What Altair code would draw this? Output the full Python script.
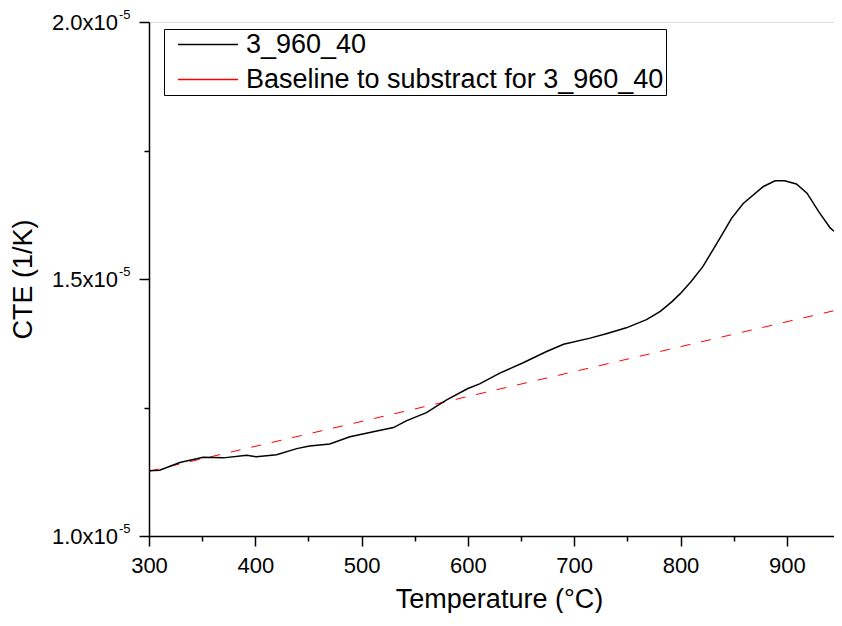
import altair as alt
import pandas as pd

# Measured curve: temperature (°C) and CTE in units of 1e-5 1/K
TEMP = [300, 310, 329, 351, 370, 392, 401, 420, 439, 451, 470, 489, 511, 530,
        542, 561, 580, 600, 611, 630, 652, 674, 690, 715, 731, 749, 768, 781,
        792, 800, 810, 821, 837, 848, 859, 878, 889, 898, 909, 919, 930, 941, 952]
CTE_E5 = [1.127, 1.128, 1.143, 1.153, 1.152, 1.157, 1.154, 1.158, 1.170, 1.175,
          1.179, 1.193, 1.203, 1.211, 1.224, 1.240, 1.265, 1.287, 1.296, 1.317,
          1.337, 1.359, 1.373, 1.385, 1.394, 1.405, 1.421, 1.437, 1.456, 1.472,
          1.495, 1.524, 1.579, 1.618, 1.647, 1.680, 1.691, 1.691, 1.685, 1.667,
          1.631, 1.599, 1.580]

# Baseline (straight line)
BASE_TEMP = [300, 952]
BASE_CTE_E5 = [1.126, 1.442]

UNIT = 1e-5
SERIES = ["3_960_40", "Baseline to substract for 3_960_40"]
COLORS = ["black", "red"]

X_DOMAIN = [300, 944.4]
X_TICKS = [300, 350, 400, 450, 500, 550, 600, 650, 700, 750, 800, 850, 900]
Y_TICKS_E5 = [1.0, 1.25, 1.5, 1.75, 2.0]
Y_LABEL_VALUES_E5 = [1.0, 1.5, 2.0]
Y_LABEL_TEXT = ["1.0x10", "1.5x10", "2.0x10"]
Y_LABEL_SUP = "-5"

FONT = "Liberation Sans"

df_meas = pd.DataFrame({"T": TEMP, "v": [c * UNIT for c in CTE_E5], "series": SERIES[0]})
df_base = pd.DataFrame({"T": BASE_TEMP, "v": [c * UNIT for c in BASE_CTE_E5], "series": SERIES[1]})
df_lab = pd.DataFrame({"v": [c * UNIT for c in Y_LABEL_VALUES_E5], "t": Y_LABEL_TEXT, "s": Y_LABEL_SUP})

x_axis = alt.Axis(
    values=X_TICKS,
    labelExpr="datum.value % 100 === 0 ? datum.label : ''",
    tickSize={"condition": {"test": "datum.value % 100 === 0", "value": 10}, "value": 5},
    labelPadding=9,
    title="Temperature (°C)",
    titleFontSize=27,
    titleFontWeight="normal",
    titleBaseline="alphabetic",
    titleX=350,
    titleY=71,
    grid=False,
)
y_axis = alt.Axis(
    values=[c * UNIT for c in Y_TICKS_E5],
    labels=False,
    tickSize={"condition": {"test": "abs(datum.value*2e5 - round(datum.value*2e5)) < 1e-6", "value": 10}, "value": 5},
    title="CTE (1/K)",
    titleFontSize=27,
    titleFontWeight="normal",
    titleBaseline="alphabetic",
    titleX=-118,
    titleY=257,
    grid=False,
)

X = alt.X("T:Q", scale=alt.Scale(domain=X_DOMAIN, nice=False, zero=False), axis=x_axis)
Y = alt.Y("v:Q", scale=alt.Scale(domain=[1.0 * UNIT, 2.0 * UNIT], nice=False, zero=False), axis=y_axis)

legend = alt.Legend(
    orient="none", legendX=15, legendY=7, title=None,
    strokeColor="black", fillColor="white", padding=2,
    symbolType="stroke", symbolSize=3600, symbolStrokeWidth=1.3,
    symbolDash=[1, 0], symbolOffset=11, labelOffset=7,
    labelFontSize=27, labelFont=FONT, labelColor="black",
    labelExpr="datum.label + '\u00a0\u00a0'",
    rowPadding=7, clipHeight=27, labelLimit=1000,
)
C = alt.Color("series:N", scale=alt.Scale(domain=SERIES, range=COLORS), legend=legend)

meas = alt.Chart(df_meas).mark_line(strokeWidth=1.5, clip=True).encode(x=X, y=Y, color=C)
base = alt.Chart(df_base).mark_line(strokeWidth=1, strokeDash=[10, 11], clip=True).encode(x=X, y=Y, color=C)

lab_main = alt.Chart(df_lab).mark_text(
    align="right", baseline="alphabetic", fontSize=22, dy=8, font=FONT, color="black"
).encode(x=alt.value(-31), y=Y, text="t:N")
lab_sup = alt.Chart(df_lab).mark_text(
    align="left", baseline="alphabetic", fontSize=13, dy=-3, font=FONT, color="black"
).encode(x=alt.value(-30), y=Y, text="s:N")

chart = alt.layer(base, meas, lab_main, lab_sup).properties(
    width=685, height=514,
    autosize=alt.AutoSizeParams(type="none"),
    padding={"left": 141, "top": 14, "right": 0, "bottom": 77},
).configure_view(stroke=None).configure(font=FONT).configure_axis(
    domainColor="black", domainWidth=1.5, tickColor="black", tickWidth=1.5,
    labelColor="black", labelFontSize=22, labelFont=FONT, titleColor="black",
    titleFont=FONT, labelOverlap=False, labelFlush=False,
)

chart.save("out.html", embed_options={"renderer": "svg", "actions": False})
